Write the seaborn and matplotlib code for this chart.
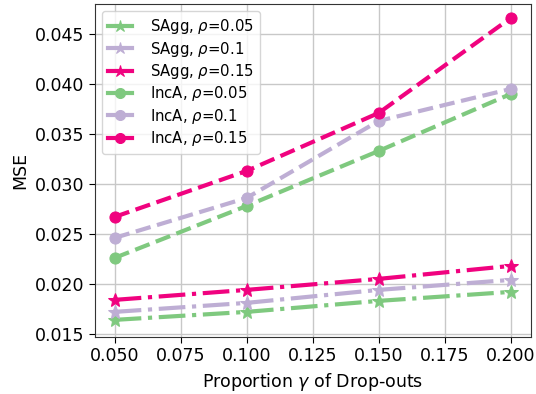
import matplotlib
matplotlib.use("Agg")
import matplotlib.pyplot as plt
import seaborn as sns
import pandas as pd

gamma = [0.05, 0.10, 0.15, 0.20]
sagg_005 = [0.0164, 0.0172, 0.0183, 0.0192]
sagg_010 = [0.0172, 0.0181, 0.0194, 0.0204]
sagg_015 = [0.0184, 0.0194, 0.0205, 0.0218]
inca_005 = [0.0226, 0.0278, 0.0333, 0.0390]
inca_010 = [0.0246, 0.0286, 0.0363, 0.0395]
inca_015 = [0.0267, 0.0313, 0.0371, 0.0466]

labels = [r"SAgg, $\rho$=0.05", r"SAgg, $\rho$=0.1", r"SAgg, $\rho$=0.15",
          r"IncA, $\rho$=0.05", r"IncA, $\rho$=0.1", r"IncA, $\rho$=0.15"]
series = [sagg_005, sagg_010, sagg_015, inca_005, inca_010, inca_015]
colors = ["#7fc97f", "#beaed4", "#f0027f"] * 2
markers = ["*"] * 3 + ["o"] * 3
styles = ["-."] * 3 + ["--"] * 3

plt.rcParams['font.family'] = ['DejaVu Sans']
fig = plt.figure(figsize=(5.36, 3.94), dpi=100)
ax = fig.add_axes([0.177, 0.145, 0.813, 0.845])

for lab, vals, c, m, ls in zip(labels, series, colors, markers, styles):
    df = pd.DataFrame({"gamma": gamma, "mse": vals})
    sns.lineplot(data=df, x="gamma", y="mse", ax=ax, color=c, marker=m,
                 linestyle=ls, linewidth=3, markersize=8 if m == "o" else 10,
                 markeredgecolor=c, label=lab)

ax.grid(True, color="#c8c8c8", linewidth=1)
ax.set_axisbelow(True)
ax.set_ylim(0.0147, 0.0480)
ax.set_xticks([0.05, 0.075, 0.1, 0.125, 0.15, 0.175, 0.2])
ax.set_xticklabels(["0.050", "0.075", "0.100", "0.125", "0.150", "0.175", "0.200"])
ax.set_yticks([0.015, 0.020, 0.025, 0.030, 0.035, 0.040, 0.045])
ax.set_yticklabels(["0.015", "0.020", "0.025", "0.030", "0.035", "0.040", "0.045"])
ax.tick_params(labelsize=12.5, length=4, color="black", labelcolor="black")
for s in ax.spines.values():
    s.set_color("#333333")
ax.set_xlabel(r"Proportion $\gamma$ of Drop-outs", fontsize=12.5)
ax.set_ylabel("MSE", fontsize=12.5)
leg = ax.legend(loc="upper left", fontsize=10.75, frameon=True, handlelength=1.6,
                handletextpad=1.2, labelspacing=0.22, markerscale=0.9)
for ln in leg.get_lines():
    ln.set_linestyle("-")

fig.savefig("out.png", dpi=100)
